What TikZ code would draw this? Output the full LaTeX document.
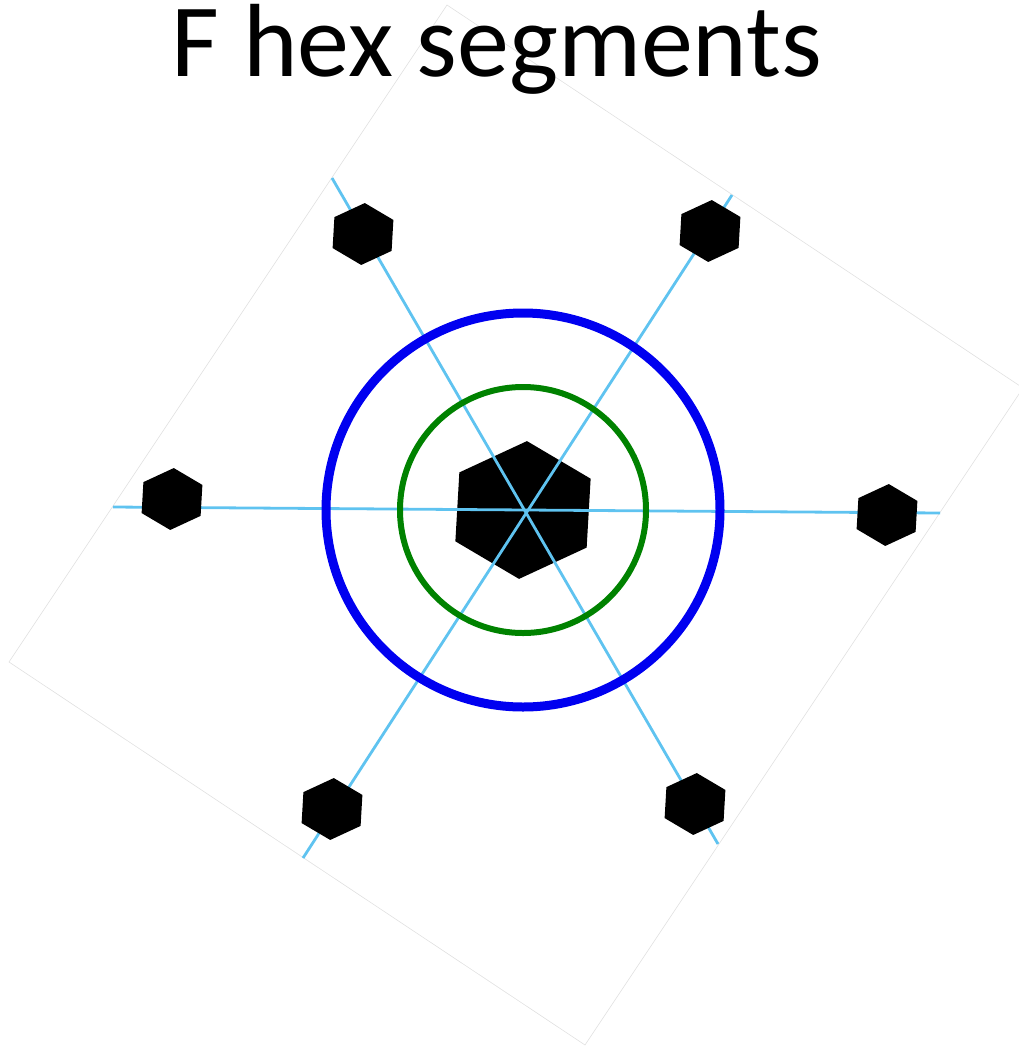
\documentclass[tikz,border=0pt]{standalone}
\usepackage{fontspec}
\setmainfont{Carlito}
\usetikzlibrary{shapes.geometric}
\definecolor{rayblue}{RGB}{95,195,240}
\definecolor{ringblue}{RGB}{0,0,240}
\definecolor{ringgreen}{RGB}{0,130,0}
\begin{document}
\begin{tikzpicture}[x=1pt,y=-1pt,
  seg/.style={regular polygon,regular polygon sides=6,fill=black,inner sep=0pt,outer sep=0pt,minimum size=62pt,shape border rotate=27,xscale=1.1,transform shape},
  ray/.style={rayblue,line width=2.8pt}]
\useasboundingbox (0,0) rectangle (1019,1047);
\clip (0,0) rectangle (1019,1047);
\draw[black!12,line width=0.6pt] (447,5) -- (9,662) -- (585,1045) -- (1023,388) -- cycle;
\node[font=\fontsize{104}{110}\selectfont,anchor=base] (title) at (497,76) {F hex segments};
\node[seg,minimum size=138pt] (hub) at (523,510) {};
% free ends of the rays
\coordinate (eL) at (113,507);
\coordinate (eR) at (940,513);
\coordinate (eTL) at (332,178);
\coordinate (eBR) at (718,844);
\coordinate (eTR) at (732,195);
\coordinate (eBL) at (303,858);
\foreach \a/\b in {eL/eR,eTL/eBR,eTR/eBL}{\draw[ray] (\a) -- (\b);}
\foreach \n/\p in {sL/{172,499},sR/{887,515},sTL/{363,234},sTR/{710,231},sBL/{332,809},sBR/{695,804}}{\node[seg] (\n) at (\p) {};}
\draw[ringgreen,line width=6pt] (hub.center) circle (123pt);
\draw[ringblue,line width=9pt] (hub.center) circle (197pt);
\end{tikzpicture}
\end{document}
